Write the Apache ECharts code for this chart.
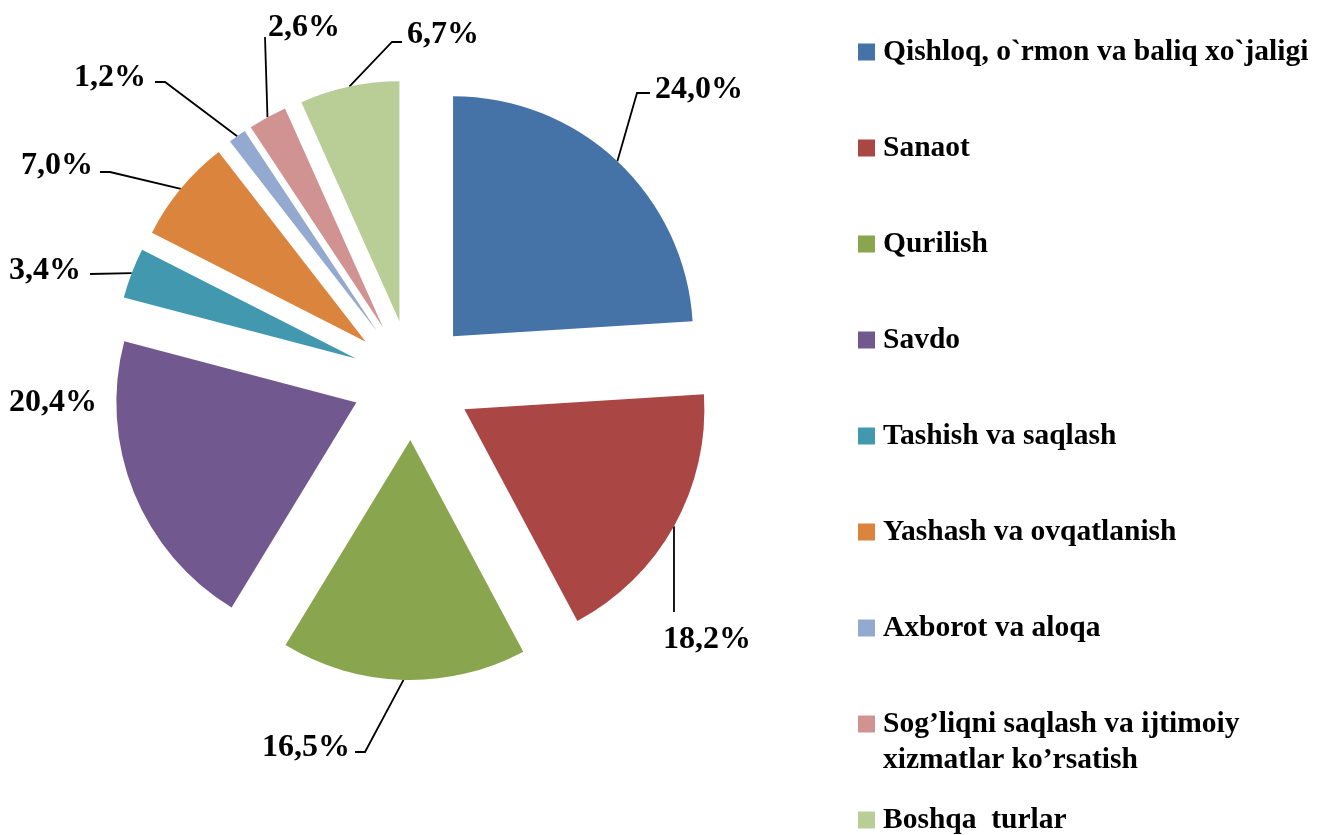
<!DOCTYPE html>
<html>
<head>
<meta charset="utf-8">
<script src="https://cdn.jsdelivr.net/npm/echarts@6/dist/echarts.min.js"></script>
<style>
	html, body { margin: 0; padding: 0; background: #fff; }
	#chart { width: 1319px; height: 835px; }
</style>
</head>
<body>
<div id="chart"></div>
<script>
// 分类
const categories = [
	"Qishloq, o`rmon va baliq xo`jaligi",
	"Sanaot",
	"Qurilish",
	"Savdo",
	"Tashish va saqlash",
	"Yashash va ovqatlanish",
	"Axborot va aloqa",
	"Sog’liqni saqlash va ijtimoiy\nxizmatlar ko’rsatish",
	"Boshqa  turlar",
];
// 占比 (%)
const shares = [24.0, 18.2, 16.5, 20.4, 3.4, 7.0, 1.2, 2.6, 6.7];
// 饼图颜色
const colors = [
	"#4572A7",
	"#AA4643",
	"#89A54E",
	"#71588F",
	"#4198AF",
	"#DB843D",
	"#93A9CF",
	"#D19392",
	"#B9CD96",
];

// 标签位置 (手动摆放，类似 Excel): 文字锚点、对齐、引导线折点
const labelPlacement = [
	{ x: 655, y: 90, align: "left", bend: [[637, 93], [650, 93]] },
	{ x: 707, y: 640, align: "center", bend: [[null, 612]] },
	{ x: 350, y: 748, align: "right", bend: [[365, 752], [355, 752]] },
	{ x: 97, y: 403, align: "right", bend: null },
	{ x: 81, y: 271, align: "right", bend: [[90, 274]] },
	{ x: 93, y: 166, align: "right", bend: [[110, 172], [100, 172]] },
	{ x: 146, y: 78, align: "right", bend: [[165, 82], [155, 82]] },
	{ x: 304, y: 28, align: "center", bend: [[265, 37]] },
	{ x: 407, y: 35, align: "left", bend: [[392, 42], [402, 42]] },
];

const chart = echarts.init(document.getElementById("chart"));
const serif = "'Liberation Serif', 'DejaVu Serif', serif";

const pieCenter = [412, 380];
const pieRadius = 240;
const explode = 60;

const pieData = () =>
	categories.map((name, i) => ({
		name: name,
		value: shares[i],
	}));

const option = {
	animation: false,
	color: colors,
	legend: {
		orient: "vertical",
		left: 858,
		top: 37,
		height: 798,
		padding: 0,
		itemGap: 66,
		itemWidth: 17,
		itemHeight: 17,
		icon: "rect",
		data: categories,
		// 只显示第一行，第二行用 graphic 文字补上
		formatter: (name) => name.split("\n")[0],
		textStyle: {
			fontFamily: serif,
			fontWeight: "bold",
			fontSize: 29.5,
			color: "#000",
			lineHeight: 30,
			padding: [0, 0, 0, 3],
		},
	},
	graphic: [
		{
			type: "text",
			left: 883,
			top: 745,
			style: {
				text: categories[7].split("\n")[1],
				font: "bold 29.5px " + serif,
				fill: "#000",
			},
		},
	],
	series: [
		// 分离饼图本体
		{
			type: "pie",
			center: pieCenter,
			radius: pieRadius,
			startAngle: 90,
			clockwise: true,
			selectedMode: "multiple",
			selectedOffset: explode,
			data: pieData().map((d) => Object.assign(d, { selected: true })),
			label: { show: false },
			labelLine: { show: false },
			emphasis: { disabled: true },
		},
		// 透明饼图，只负责标签和引导线（外半径 = 分离后扇形外弧）
		{
			type: "pie",
			center: pieCenter,
			radius: pieRadius + explode,
			startAngle: 90,
			clockwise: true,
			silent: true,
			z: 1,
			avoidLabelOverlap: false,
			data: pieData(),
			itemStyle: { color: "rgba(0,0,0,0)" },
			label: {
				show: true,
				position: "outside",
				fontFamily: serif,
				fontWeight: "bold",
				fontSize: 32,
				color: "#000",
				formatter: (p) => p.value.toFixed(1).replace(".", ",") + "%",
			},
			labelLine: {
				show: true,
				length: 20,
				length2: 10,
				lineStyle: { color: "#000", width: 1.8 },
			},
			labelLayout: (params) => {
				const p = labelPlacement[params.dataIndex];
				const start = params.labelLinePoints[0];
				const pts = p.bend
					? [start].concat(p.bend.map((b) => [b[0] == null ? start[0] : b[0], b[1]]))
					: [start, start];
				return {
					x: p.x,
					y: p.y,
					align: p.align,
					verticalAlign: "middle",
					labelLinePoints: pts,
				};
			},
			emphasis: { disabled: true },
		},
	],
};
chart.setOption(option);
</script>
</body>
</html>
